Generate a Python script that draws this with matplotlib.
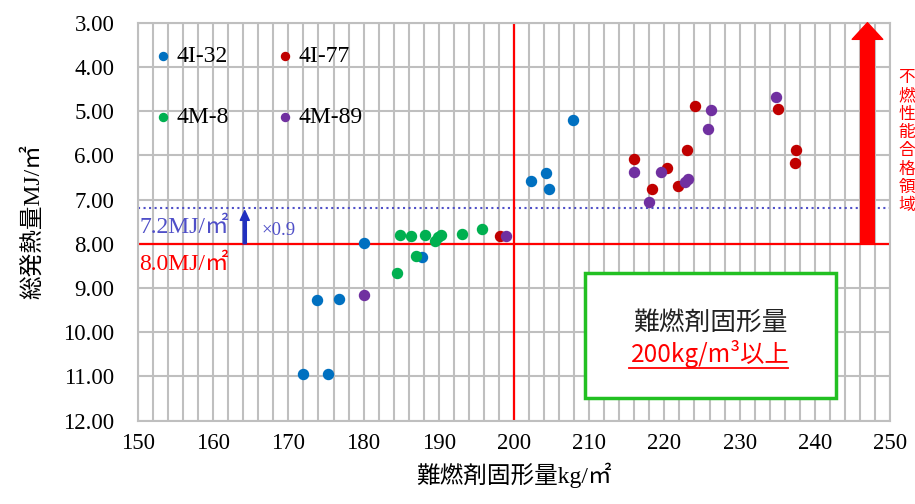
import matplotlib
matplotlib.use("Agg")
import matplotlib.pyplot as plt
from matplotlib.patches import Rectangle
from matplotlib.lines import Line2D

# data (x: kg/m3, y: MJ/m2)
x_4i32 = [172.0, 173.8, 175.3, 176.7, 180.0, 187.7, 202.3, 204.2, 204.7, 207.8]
y_4i32 = [10.95, 9.27, 10.94, 9.24, 7.99, 8.29, 6.58, 6.39, 6.75, 5.19]
x_4i77 = [198.2, 216.0, 218.4, 220.3, 221.8, 223.0, 224.1, 235.1, 237.5, 237.3]
y_4i77 = [7.83, 6.08, 6.75, 6.28, 6.69, 5.88, 4.88, 4.95, 5.88, 6.18]
x_4m8 = [184.5, 184.8, 186.3, 187.0, 188.2, 189.5, 189.9, 190.3, 193.1, 195.7]
y_4m8 = [8.67, 7.80, 7.82, 8.27, 7.81, 7.93, 7.85, 7.80, 7.78, 7.67]
x_4m89 = [180.0, 199.0, 215.9, 217.9, 219.6, 222.8, 223.2, 225.8, 226.2, 234.8]
y_4m89 = [9.16, 7.82, 6.38, 7.06, 6.38, 6.61, 6.54, 5.40, 4.98, 4.67]

limit_thr = 8.0
limit_09 = 7.2
x_thr = 200

serif = ["Liberation Serif", "Noto Sans CJK JP"]
gothic = ["Noto Sans CJK JP", "DejaVu Sans"]

fig = plt.figure(figsize=(9.15, 5.04), dpi=100)
ax = fig.add_axes([0.1508, 0.1653, 0.8219, 0.7897])

ax.set_xlim(150, 250)
ax.set_ylim(12, 3)
ax.set_xticks(range(150, 251, 10))
ax.set_xticks(range(150, 251, 2), minor=True)
ax.set_yticks(range(3, 13))
ax.set_yticklabels([f"{v:.2f}" for v in range(3, 13)])
ax.grid(True, which="both", axis="x", color="#BFBFBF", lw=1.5)
ax.grid(True, which="major", axis="y", color="#BFBFBF", lw=1.5)
ax.set_axisbelow(True)
ax.tick_params(which="both", length=0)
ax.tick_params(axis="y", pad=17)
ax.tick_params(axis="x", pad=9)
for lab in ax.get_xticklabels() + ax.get_yticklabels():
    lab.set_family(serif)
    lab.set_fontsize(16.5)
for s in ax.spines.values():
    s.set_color("#BFBFBF")
    s.set_linewidth(1.5)

ax.axhline(limit_thr, color="red", lw=1.6, zorder=2)
ax.axhline(limit_09, color="#4F4FC8", lw=1.5, ls=":", zorder=2)
ax.axvline(x_thr, color="red", lw=1.6, zorder=2)

h1 = ax.scatter(x_4i32, y_4i32, s=52, color="#0070C0", label="4I-32", zorder=3)
h2 = ax.scatter(x_4i77, y_4i77, s=52, color="#C00000", label="4I-77", zorder=3)
h3 = ax.scatter(x_4m8, y_4m8, s=52, color="#00B050", label="4M-8", zorder=3)
h4 = ax.scatter(x_4m89, y_4m89, s=52, color="#7030A0", label="4M-89", zorder=3)

# order so that row 1 = 4I-32, 4I-77 and row 2 = 4M-8, 4M-89
ax.legend([h1, h3, h2, h4], ["4I-32", "4M-8", "4I-77", "4M-89"],
          loc="upper left", bbox_to_anchor=(-0.004, 0.995), ncol=2, frameon=False,
          prop={"family": serif, "size": 17}, markerscale=0.8,
          handlelength=0.6, handletextpad=0.25, columnspacing=2.1,
          labelspacing=1.65)

ax.text(150.2, 7.76, "7.2MJ/㎡", color="#4F4FC8", fontsize=17, family=serif, va="baseline")
ax.text(150.2, 8.60, "8.0MJ/㎡", color="red", fontsize=17, family=serif, va="baseline")
ax.text(166.4, 7.80, "×0.9", color="#4F4FC8", fontsize=13.5, family=serif, va="baseline")
ax.annotate("", xy=(164.2, 7.25), xytext=(164.2, limit_thr),
            arrowprops=dict(arrowstyle="simple,head_length=1.4,head_width=1.3,tail_width=0.45",
                            mutation_scale=5, color="#2030C0", shrinkA=0, shrinkB=0))
ax.annotate("", xy=(247.0, 3.0), xytext=(247.0, limit_thr),
            arrowprops=dict(arrowstyle="simple,head_length=1.2,head_width=2.2,tail_width=0.98",
                            mutation_scale=10, color="red", shrinkA=0, shrinkB=0), zorder=4)

ax.add_patch(Rectangle((209.4, 8.66), 33.4, 2.83, facecolor="white", edgecolor="#22C022",
                       lw=2.5, zorder=5))
ax.text(226.1, 9.95, "難燃剤固形量", family=gothic, fontsize=18.5, ha="center", va="baseline",
        color="#222222", zorder=6)
ax.text(226.1, 10.68, "200kg/m³以上", family=gothic, fontsize=17.5, ha="center", va="baseline",
        color="red", zorder=6)
fig.add_artist(Line2D([629 / 915, 788 / 915], [1 - 368 / 504, 1 - 368 / 504], color="red", lw=1.3))

ax.set_ylabel("総発熱量MJ/㎡", family=serif, fontsize=17, labelpad=14)
ax.set_xlabel("難燃剤固形量kg/㎡", family=serif, fontsize=17, labelpad=6)

fig.text(0.982, 0.719, "\n".join("不燃性能合格領域"), color="red", family=gothic,
         fontsize=12, ha="left", va="center", linespacing=1.1)

fig.savefig("out.png", dpi=100)
